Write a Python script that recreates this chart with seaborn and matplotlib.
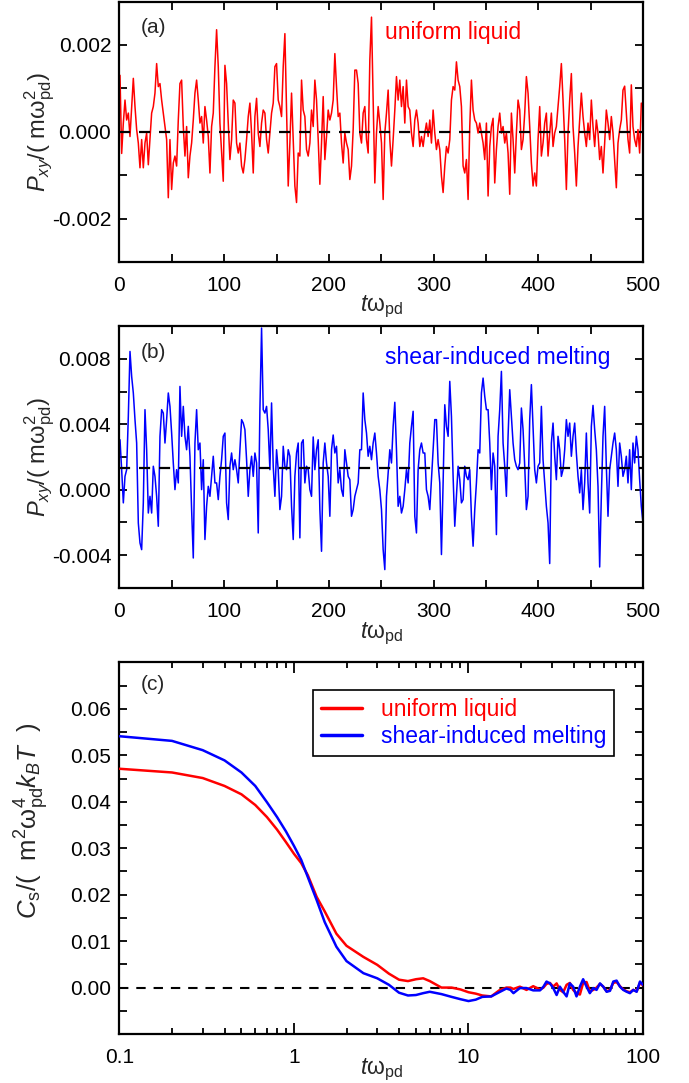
import numpy as np
import matplotlib
matplotlib.use("Agg")
import matplotlib.pyplot as plt
import seaborn as sns
from matplotlib.ticker import MultipleLocator, FormatStrFormatter, FixedLocator, FixedFormatter, LogLocator, NullFormatter

# (a) uniform liquid, P_xy in units of 1e-3 m w_pd^2, evenly sampled from t=0.5 to t=500
pxy_uniform = [
    1.3, -0.5, 0.2, 0.73, 0.27, 0.43, -0.11, 0.58, 1.23, 0.58,
    0.05, -0.26, -0.83, -0.18, -0.83, -0.26, -0.03, -0.76, -0.18, 0.43,
    0.58, 0.89, 1.57, 1.04, 1.11, 0.73, 0.43, 0.12, -0.18, -1.52,
    -0.18, -1.33, -0.72, -0.56, -0.79, 0.27, 1.11, 1.19, 0.12, -0.56,
    0.12, -1.06, -0.56, -0.26, 0.27, 0.89, 1.19, 0.73, 0.2, 0.35,
    -0.26, 0.58, 0.27, -0.11, -0.95, 0.12, 0.43, 1.5, 2.35, 1.5,
    0.2, -0.49, -1.14, 1.53, 1.11, 0.2, -0.64, -0.18, 0.73, 0.66,
    -0.26, -0.49, -0.26, -0.79, -0.95, -0.64, -0.18, 0.35, 0.66, -0.03,
    -0.95, 0.35, 0.77, -0.03, -0.34, 0.2, 0.5, 0.43, -0.18, -0.49,
    -0.03, 0.43, 0.66, 1.5, 1.57, 0.73, 0.58, 0.35, 1.5, 2.26,
    0.5, -1.25, -0.26, 0.89, -0.18, -1.25, -1.63, -0.49,
    -0.56, 1.19, 0.5, 0.35, -0.41, -0.56, -0.26, 0.5, 0.12, 1.19,
    0.73, -0.18, -1.21, -0.26, 0.81, -0.64, -0.11, 0.5, 0.27, 0.43,
    0.73, 1.8, 1.04, 0.35, 0.43, -0.26, -0.72, -0.03, -0.26, -0.41,
    -1.1, -0.79, 0.05, 1.42, 1.42, 1.11, -0.03, -0.26, 0.43, 0.58,
    -0.18, -0.49, 1.65, 2.64, 0.73, -1.18, -0.03, 0.58, 0.2, -0.26,
    -1.56, -0.03, 0.43, 0.96, -0.18, -0.79, -0.18, 0.5, 1.27, 0.73,
    1.19, 0.58, 1.04, 0.2, 1.19, 0.58, 0.5, -0.03, -0.34, 0.27,
    0.5, 0.2, -0.34, -0.11, -0.34, -0.03, 0.2, -0.11, 0.27, -0.26,
    0.5, -0.03, -0.41, -0.18, -0.41, -1.02, -1.4, -0.79, -0.34, -0.49,
    -0.18, 0.73, 1.04, 0.96, 1.61, 1.19, 1.04, 0.58, -0.79, -0.95,
    -0.64, -1.56, 0.12, 1.19, 0.5, 0.27, 0.2, -0.03, 0.2, -0.03,
    -0.26, -0.64, 0.2,
    -1.48, -0.34, 0.12, 0.31, -1.18, -0.41, 0.12, 0.43, -0.03, 0.12,
    -0.26, -0.03, -0.49, -1.44, 0.43, -0.18, -0.95, -0.03, 0.73, 0.5,
    -0.41, -0.18, 0.43, 1.27, 0.89, 0.12, -0.72, -1.25, -0.95, -1.25,
    -0.18, 0.58, -0.56, -0.26, 0.2, 0.43, -0.56, -0.03, 0.43, -0.34,
    -0.03, 0.12, 0.58, 1.04, 1.57, 0.73, -0.18, -1.33, -0.03, 0.73,
    1.34, 0.12, -0.49, -1.25, -0.34, 0.27, 0.89, 0.35, -0.03, -0.34,
    0.2, -0.18, 0.73, 0.12, -0.34, 0.27, -0.03, -0.64, -0.34, -0.95,
    -0.26, 0.5, 0.2, -0.18, 0.35, -0.03, -0.64, -1.29, -0.26, 0.05,
    0.27, 0.96, 1.05, 0.43, -0.18, -0.49, 1.08, 0.12, -0.18, -0.34,
    0.05, -0.49, 0.66, 0.58,
]

# (b) shear-induced melting, same units and sampling
pxy_shear = [
    3.05, 1.22, -0.81, 0.81, 1.22, 4.48, 8.45, 6.92, 5.91, 4.28,
    2.85, -2.04, -3.26, -3.67, -0.81, 4.89, 2.44, -1.43, -0.41, -1.43,
    1.43, 0.81, -0.41, -2.24, 3.26, 4.89, 4.68, 2.85, 4.28, 5.91,
    5.09, 3.46, 1.63, 0.0, 1.22, 0.41, 6.31, 3.26, 5.09, 3.26,
    2.44, 3.87, 2.04, -1.22, -4.18, 2.85, 4.89, 2.44, 2.85, 0.0,
    1.83, -3.05, -1.02, 0.2, -0.41, 0.81, 2.04, 0.41, 0.41, -0.61,
    0.81, 1.83, 3.26, 3.46, -0.81, -1.83, 1.43, 2.24, 1.22, 1.83,
    1.22, 0.41, 2.44, 4.28, 4.07, 3.67, 1.83, -0.41, 1.22, 2.04,
    0.81, 2.24, 1.63, -2.65, 4.89, 9.88, 4.89, 4.68, 5.09, 3.67,
    1.22, 5.3, 1.43, -0.41, 2.44, 1.22, -1.22, -0.41, 2.65, 1.43,
    1.22, 2.44, 2.04, -1.02, -3.05, 0.81, 2.24, 2.85,
    -2.95, 2.85, 3.05, 0.41, 1.43, 1.22, 0.0, -0.41, 3.22, 1.22,
    2.44, 3.05, -1.22, -3.77, 1.63, 2.85, 1.63, 0.81, -1.63, 2.44,
    3.34, 2.24, 2.65, 0.41, 1.22, 0.0, -0.41, 2.44, 1.63, 0.81,
    0.61, -1.63, -1.22, -0.41, 0.0, 0.41, 2.44, 2.44, 5.91, 4.28,
    3.46, 2.04, 2.65, 1.83, 2.85, 3.46, 2.24, 0.81, 0.0, -1.22,
    -3.67, -4.89, -0.41, 1.02, 2.44, 1.63, 3.87, 5.34, 2.44, -1.02,
    -0.41, -1.43, -1.02, 0.0, 1.22, 0.41, 2.85, 3.87, 4.79, -1.63,
    -2.65, 1.22, 2.44, 2.85, 2.24, 2.24, 0.0, -0.41, -1.22, 0.61,
    2.44, 4.28, 4.28, 1.63, 0.41, -3.97, 0.41, 5.19, 3.87, 3.26,
    6.62, 4.48, 0.81, -2.24, -0.41, 1.43, 0.61, -0.81, -0.61, 1.43,
    0.81, 0.61, 1.22, -1.63, -3.46, -1.22, 0.41, 2.44, 2.24, 5.91,
    6.82, 5.7, 4.89,
    4.89, 2.85, 0.0, 2.24, 1.43, -2.75, 3.26, 4.89, 7.23, 2.85,
    1.43, -0.41, 3.26, 6.11, 4.48, 2.85, 1.83, 1.43, 1.22, 1.63,
    4.99, 3.67, 1.43, -1.22, -0.41, 4.28, 6.42, 3.87, 1.22, 0.41,
    1.43, 1.63, 5.09, 1.83, 0.41, -1.02, -2.04, -4.52, 2.85, 4.07,
    2.04, 0.61, 3.26, 2.44, 0.81, 1.22, 2.44, 4.28, 3.26, 4.07,
    2.04, 3.26, 4.07, 2.24, 0.81, -0.2, 1.22, -1.22, 0.41, 3.46,
    0.41, -1.43, 3.87, 5.15, 3.67, 2.44, 0.2, -4.73, -0.41, 3.26,
    5.09, 1.43, -1.63, 1.22, 2.04, 2.85, 3.46, 2.44, 0.2, 2.85,
    2.04, 0.81, 1.22, 2.04, 0.41, 2.44, 0.0, 2.85, 1.63, 3.26,
    2.44, 0.61, -1.02, -2.04,
]

t_series = np.linspace(0.5, 500, len(pxy_uniform))
level_uniform = 0.0   # dashed reference lines, 1e-3 units
level_shear = 1.33

# (c) stress autocorrelation, C_s in units of 1e-2
t_corr = [0.1, 0.2, 0.3, 0.4, 0.5, 0.6, 0.7, 0.8, 0.9, 1.0, 1.1, 1.2, 1.35, 1.5, 1.75,
          2.0, 2.5, 3.0, 3.5, 4.0, 4.5, 5.0, 5.5, 6.0, 7.0, 8.0, 9.0, 10.0, 11.0, 12.0,
          13.5, 15.0, 16.5, 17.4, 18.1, 19.7, 21.5, 23.5, 25.7, 26.9, 28.0, 29.3, 30.6,
          32.0, 33.4, 34.9, 36.5, 38.1, 39.8, 41.6, 43.5, 45.4, 47.5, 49.6, 51.9, 54.2,
          56.7, 59.2, 61.9, 64.7, 67.6, 70.6, 73.8, 77.1, 80.7, 84.2, 88.0, 92.0, 96.1, 100.0]
cs_uniform = [4.71, 4.63, 4.51, 4.34, 4.16, 3.93, 3.67, 3.40, 3.13, 2.88, 2.68, 2.42, 1.95,
              1.64, 1.16, 0.90, 0.66, 0.49, 0.30, 0.17, 0.14, 0.18, 0.20, 0.14, 0.0, 0.0,
              -0.04, -0.10, -0.13, -0.17, -0.19, -0.06, 0.0,
              0.0, -0.03, 0.02, -0.05, 0.03, -0.04, 0.0, 0.08, 0.1, 0.02, 0.09, -0.05, -0.1,
              0.06, 0.1, -0.05, -0.12, -0.15, 0.1, 0.12, -0.08, -0.05, 0.0, 0.08, 0.02,
              -0.08, -0.05, 0.1, 0.12, 0.03, -0.04, -0.08, -0.1, -0.05, -0.08, 0.1, 0.05]
cs_shear = [5.41, 5.31, 5.11, 4.89, 4.63, 4.34, 3.99, 3.67, 3.36, 3.05, 2.75, 2.38, 1.88,
            1.41, 0.88, 0.57, 0.31, 0.2, 0.06, -0.11, -0.17, -0.16, -0.12, -0.09, -0.14,
            -0.2, -0.25, -0.29, -0.26, -0.2, -0.19, -0.1, -0.02,
            -0.05, -0.12, -0.01, -0.01, -0.06, -0.06, 0.02, 0.13, 0.09, -0.01, -0.16, 0.02,
            -0.09, -0.19, 0.09, 0.02, -0.19, 0.02, 0.18, 0.02, -0.12, -0.01, -0.05, 0.09,
            0.02, -0.09, -0.07, 0.13, 0.15, 0.02, -0.05, -0.09, -0.12, -0.05, -0.09, 0.13, 0.06]

sns.set_theme(style="ticks")
plt.rcParams['font.family'] = ['Liberation Sans', 'DejaVu Sans']
plt.rcParams['mathtext.fontset'] = 'custom'
plt.rcParams['mathtext.rm'] = 'Liberation Sans'
plt.rcParams['mathtext.it'] = 'Liberation Sans:italic'
plt.rcParams['mathtext.bf'] = 'Liberation Sans:bold'
plt.rcParams['mathtext.sf'] = 'Liberation Sans'

TICK_FS = 15
LABEL_FS = 16.5
YLAB_FS = 17
dash = (0, (5, 4))


def style_axis(ax):
    for sp in ax.spines.values():
        sp.set_linewidth(1.6)
        sp.set_color('black')
    ax.tick_params(which='both', direction='in', top=True, right=True,
                   colors='black', labelsize=TICK_FS, width=1.3)
    ax.tick_params(which='major', length=6, pad=6)
    ax.tick_params(which='minor', length=6)
    ax.tick_params(axis='x', which='major', pad=10)


def series_panel(ax, values, level, color, ylim, ymajor, ymin_step, tag, text, xlab_y):
    sns.lineplot(x=t_series, y=np.array(values) * 1e-3, ax=ax, color=color,
                 linewidth=1.1, zorder=2)
    ax.axhline(level * 1e-3, color='black', linewidth=1.6, linestyle=dash, zorder=3)
    ax.set_xlim(0, 500)
    ax.set_ylim(*ylim)
    ax.xaxis.set_major_locator(MultipleLocator(100))
    ax.xaxis.set_minor_locator(MultipleLocator(50))
    ax.yaxis.set_major_locator(FixedLocator(ymajor))
    ax.yaxis.set_minor_locator(MultipleLocator(ymin_step))
    ax.yaxis.set_major_formatter(FormatStrFormatter('%.3f'))
    style_axis(ax)
    ax.set_xlabel(r"$t\mathrm{\omega}_{\mathrm{pd}}$", fontsize=LABEL_FS)
    ax.set_ylabel(r"$P_{xy}$/( m$\mathrm{\omega}_{\mathrm{pd}}^{2}$)", fontsize=YLAB_FS)
    ax.xaxis.set_label_coords(0.5, xlab_y)
    ax.yaxis.set_label_coords(-0.12, 0.5)
    ax.text(0.04, 0.9, tag, transform=ax.transAxes, fontsize=TICK_FS, va='center')
    ax.text(0.508, 0.88, text, transform=ax.transAxes, fontsize=LABEL_FS,
            color=color, va='center')


fig = plt.figure(figsize=(6.89, 10.83), dpi=100)
ax_a = fig.add_axes([0.1734, 0.7581, 0.7598, 0.2405])
ax_b = fig.add_axes([0.1734, 0.4573, 0.7598, 0.2416])
ax_c = fig.add_axes([0.1734, 0.0452, 0.7598, 0.3432])

series_panel(ax_a, pxy_uniform, level_uniform, 'red', (-0.003, 0.003),
             [-0.002, 0.0, 0.002], 0.001, "(a)", "uniform liquid", -0.12)
series_panel(ax_b, pxy_shear, level_shear, 'blue', (-0.006, 0.010),
             [-0.004, 0.0, 0.004, 0.008], 0.002, "(b)", "shear-induced melting", -0.125)

# (c)
ax_c.axhline(0.0, color='black', linewidth=1.5, linestyle=(0, (4.5, 3.8)), zorder=1)
sns.lineplot(x=t_corr, y=np.array(cs_uniform) * 1e-2, ax=ax_c, color='red',
             linewidth=1.8, label="uniform liquid", zorder=3)
sns.lineplot(x=t_corr, y=np.array(cs_shear) * 1e-2, ax=ax_c, color='blue',
             linewidth=1.8, label="shear-induced melting", zorder=4)
ax_c.set_xscale('log')
ax_c.set_xlim(0.1, 100)
ax_c.set_ylim(-0.01, 0.07)
ax_c.xaxis.set_major_locator(FixedLocator([0.1, 1, 10, 100]))
ax_c.xaxis.set_major_formatter(FixedFormatter(['0.1', '1', '10', '100']))
ax_c.xaxis.set_minor_locator(LogLocator(base=10, subs=np.arange(2, 10), numticks=20))
ax_c.xaxis.set_minor_formatter(NullFormatter())
ax_c.yaxis.set_major_locator(FixedLocator([0.0, 0.01, 0.02, 0.03, 0.04, 0.05, 0.06]))
ax_c.yaxis.set_minor_locator(MultipleLocator(0.005))
ax_c.yaxis.set_major_formatter(FormatStrFormatter('%.2f'))
style_axis(ax_c)
ax_c.tick_params(axis='x', which='major', length=8)
ax_c.tick_params(axis='x', which='minor', length=4)
ax_c.set_xlabel(r"$t\mathrm{\omega}_{\mathrm{pd}}$", fontsize=LABEL_FS)
ax_c.set_ylabel(r"$C_{\mathrm{s}}$/(  m$^{2}\mathrm{\omega}_{\mathrm{pd}}^{4}k_{B}T$  )",
                fontsize=18.5)
ax_c.xaxis.set_label_coords(0.5, -0.06)
ax_c.yaxis.set_label_coords(-0.13, 0.575)
ax_c.text(0.04, 0.94, "(c)", transform=ax_c.transAxes, fontsize=TICK_FS, va='center')

leg = ax_c.legend(loc='upper right', bbox_to_anchor=(0.945, 0.925), frameon=True,
                  fancybox=False, framealpha=1, edgecolor='black', fontsize=LABEL_FS,
                  handlelength=1.8, handletextpad=0.8, borderpad=0.35, labelspacing=0.15,
                  borderaxespad=0)
leg.get_frame().set_linewidth(1.2)
for txt, col in zip(leg.get_texts(), ['red', 'blue']):
    txt.set_color(col)
for line in leg.get_lines():
    line.set_linewidth(2.5)

fig.savefig("out.png", dpi=100)
